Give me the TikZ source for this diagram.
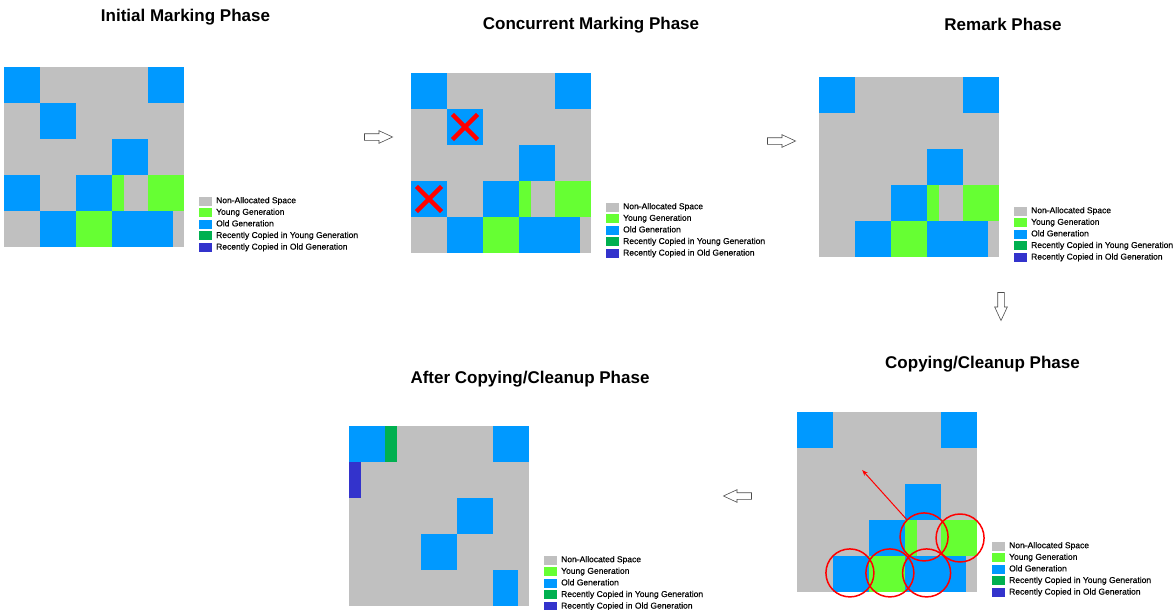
\documentclass[tikz,border=0pt]{standalone}
\usepackage{fontspec}
\setmainfont{Liberation Sans}
\newfontfamily\legendfont[FakeBold=0.3]{Liberation Sans}
\usetikzlibrary{arrows.meta, shapes.arrows}

\definecolor{freegray}{HTML}{C0C0C0}
\definecolor{younggreen}{HTML}{66FF33}
\definecolor{oldblue}{HTML}{0099FF}
\definecolor{copyyoung}{HTML}{00B050}
\definecolor{copyold}{HTML}{3333CC}

\begin{document}
\begin{tikzpicture}[
    x=1pt, y=-1pt,
    phase/.style={font=\fontsize{17}{20}\selectfont\bfseries, anchor=base, inner sep=0pt},
    free/.style={fill=freegray},
    young/.style={fill=younggreen},
    old/.style={fill=oldblue},
    swatch/.style={minimum width=13pt, minimum height=9pt, inner sep=0pt, anchor=west},
    legtext/.style={font=\legendfont\fontsize{8.5}{10}\selectfont, anchor=west, inner sep=0pt,
                    text height=6.2pt, text depth=1.8pt},
    nextstep/.style={single arrow, draw=black!70, fill=white, line width=0.6pt,
                     inner xsep=0pt, inner ysep=3pt,
                     minimum height=28pt, single arrow head extend=3pt,
                     single arrow tip angle=50},
    marked/.style={red, line width=4.5pt},
    hit/.style={draw=red, line width=1.5pt}
  ]
  \fill[white] (0,0) rectangle (1176,610);
  \useasboundingbox (0,0) rectangle (1176,610);

  % phase titles
  \node[phase] (initt) at (185.5,22) {Initial Marking Phase};
  \node[phase] (conct) at (591,30) {Concurrent Marking Phase};
  \node[phase] (remarkt) at (1003,31) {Remark Phase};
  \node[phase] (copyt) at (982.5,368) {Copying/Cleanup Phase};
  \node[phase] (aftert) at (530,383) {After Copying/Cleanup Phase};

  % initial marking
  \begin{scope}[shift={(4pt,-67pt)}, x=36pt, y=-36pt]
    \fill[free] (0,0) rectangle (5,5);
    \foreach \c/\r in {0/0, 4/0, 1/1, 3/2, 0/3, 2/3, 1/4}
      \fill[old] (\c,\r) rectangle ++(1,1);
    \fill[old] (3,4) rectangle (4.7,5);
    \fill[young] (4,3) rectangle ++(1,1);
    \fill[young] (2,4) rectangle ++(1,1);
    \fill[young] (3,3) rectangle (3.33,4);
  \end{scope}

  % concurrent marking
  \begin{scope}[shift={(411pt,-73pt)}, x=36pt, y=-36pt]
    \fill[free] (0,0) rectangle (5,5);
    \foreach \c/\r in {0/0, 4/0, 1/1, 3/2, 0/3, 2/3, 1/4}
      \fill[old] (\c,\r) rectangle ++(1,1);
    \fill[old] (3,4) rectangle (4.7,5);
    \fill[young] (4,3) rectangle ++(1,1);
    \fill[young] (2,4) rectangle ++(1,1);
    \fill[young] (3,3) rectangle (3.33,4);
    \foreach \c/\r in {1/1, 0/3}
      \draw[marked] (\c+0.15,\r+0.15) -- (\c+0.85,\r+0.85)
                    (\c+0.15,\r+0.85) -- (\c+0.85,\r+0.15);
  \end{scope}

  % remark
  \begin{scope}[shift={(819pt,-77pt)}, x=36pt, y=-36pt]
    \fill[free] (0,0) rectangle (5,5);
    \foreach \c/\r in {0/0, 4/0, 3/2, 2/3, 1/4}
      \fill[old] (\c,\r) rectangle ++(1,1);
    \fill[old] (3,4) rectangle (4.7,5);
    \fill[young] (4,3) rectangle ++(1,1);
    \fill[young] (2,4) rectangle ++(1,1);
    \fill[young] (3,3) rectangle (3.33,4);
  \end{scope}

  % copying/cleanup
  \begin{scope}[shift={(797pt,-412pt)}, x=36pt, y=-36pt]
    \fill[free] (0,0) rectangle (5,5);
    \foreach \c/\r in {0/0, 4/0, 3/2, 2/3, 1/4}
      \fill[old] (\c,\r) rectangle ++(1,1);
    \fill[old] (3,4) rectangle (4.7,5);
    \fill[young] (4,3) rectangle ++(1,1);
    \fill[young] (2,4) rectangle ++(1,1);
    \fill[young] (3,3) rectangle (3.33,4);
    \foreach \cx/\cy in {3.53/3.47, 4.53/3.5, 1.47/4.47, 2.58/4.47, 3.6/4.47}
      \draw[hit] (\cx,\cy) circle[radius=24pt];
    \coordinate (copysrc) at (3.06,3.0);
    \coordinate (copydst) at (1.81,1.61);
    \draw[-{Stealth[length=6pt]}, red, line width=1pt] (copysrc) -- (copydst);
  \end{scope}

  % after copying/cleanup
  \begin{scope}[shift={(349pt,-426pt)}, x=36pt, y=-36pt]
    \fill[free] (0,0) rectangle (5,5);
    \foreach \c/\r in {0/0, 4/0, 3/2, 2/3}
      \fill[old] (\c,\r) rectangle ++(1,1);
    \fill[old] (4,4) rectangle (4.7,5);
    \fill[copyyoung] (1,0) rectangle (1.33,1);
    \fill[copyold] (0,1) rectangle (0.33,2);
  \end{scope}

  % legends
  \foreach \p/\gx/\gy in {init/4/67, conc/411/73, remark/819/77, copy/797/412, after/349/426}
    \foreach \c/\t [count=\i from 0] in {freegray/Non-Allocated Space, younggreen/Young Generation,
        oldblue/Old Generation, copyyoung/Recently Copied in Young Generation,
        copyold/Recently Copied in Old Generation} {
      \node[swatch, fill=\c] (\p sw\i) at (\gx+195, \gy+134+11.6*\i) {};
      \node[legtext] (\p lab\i) at (\gx+212, \gy+134+11.6*\i) {\t};
    }

  % steps between phases
  \node[nextstep] (toconc) at (375,137) {};
  \node[nextstep] (toremark) at (778,141) {};
  \node[nextstep, rotate=-90] (tocopy) at (1001,303) {};
  \node[nextstep, rotate=180] (toafter) at (741,496) {};
\end{tikzpicture}
\end{document}
